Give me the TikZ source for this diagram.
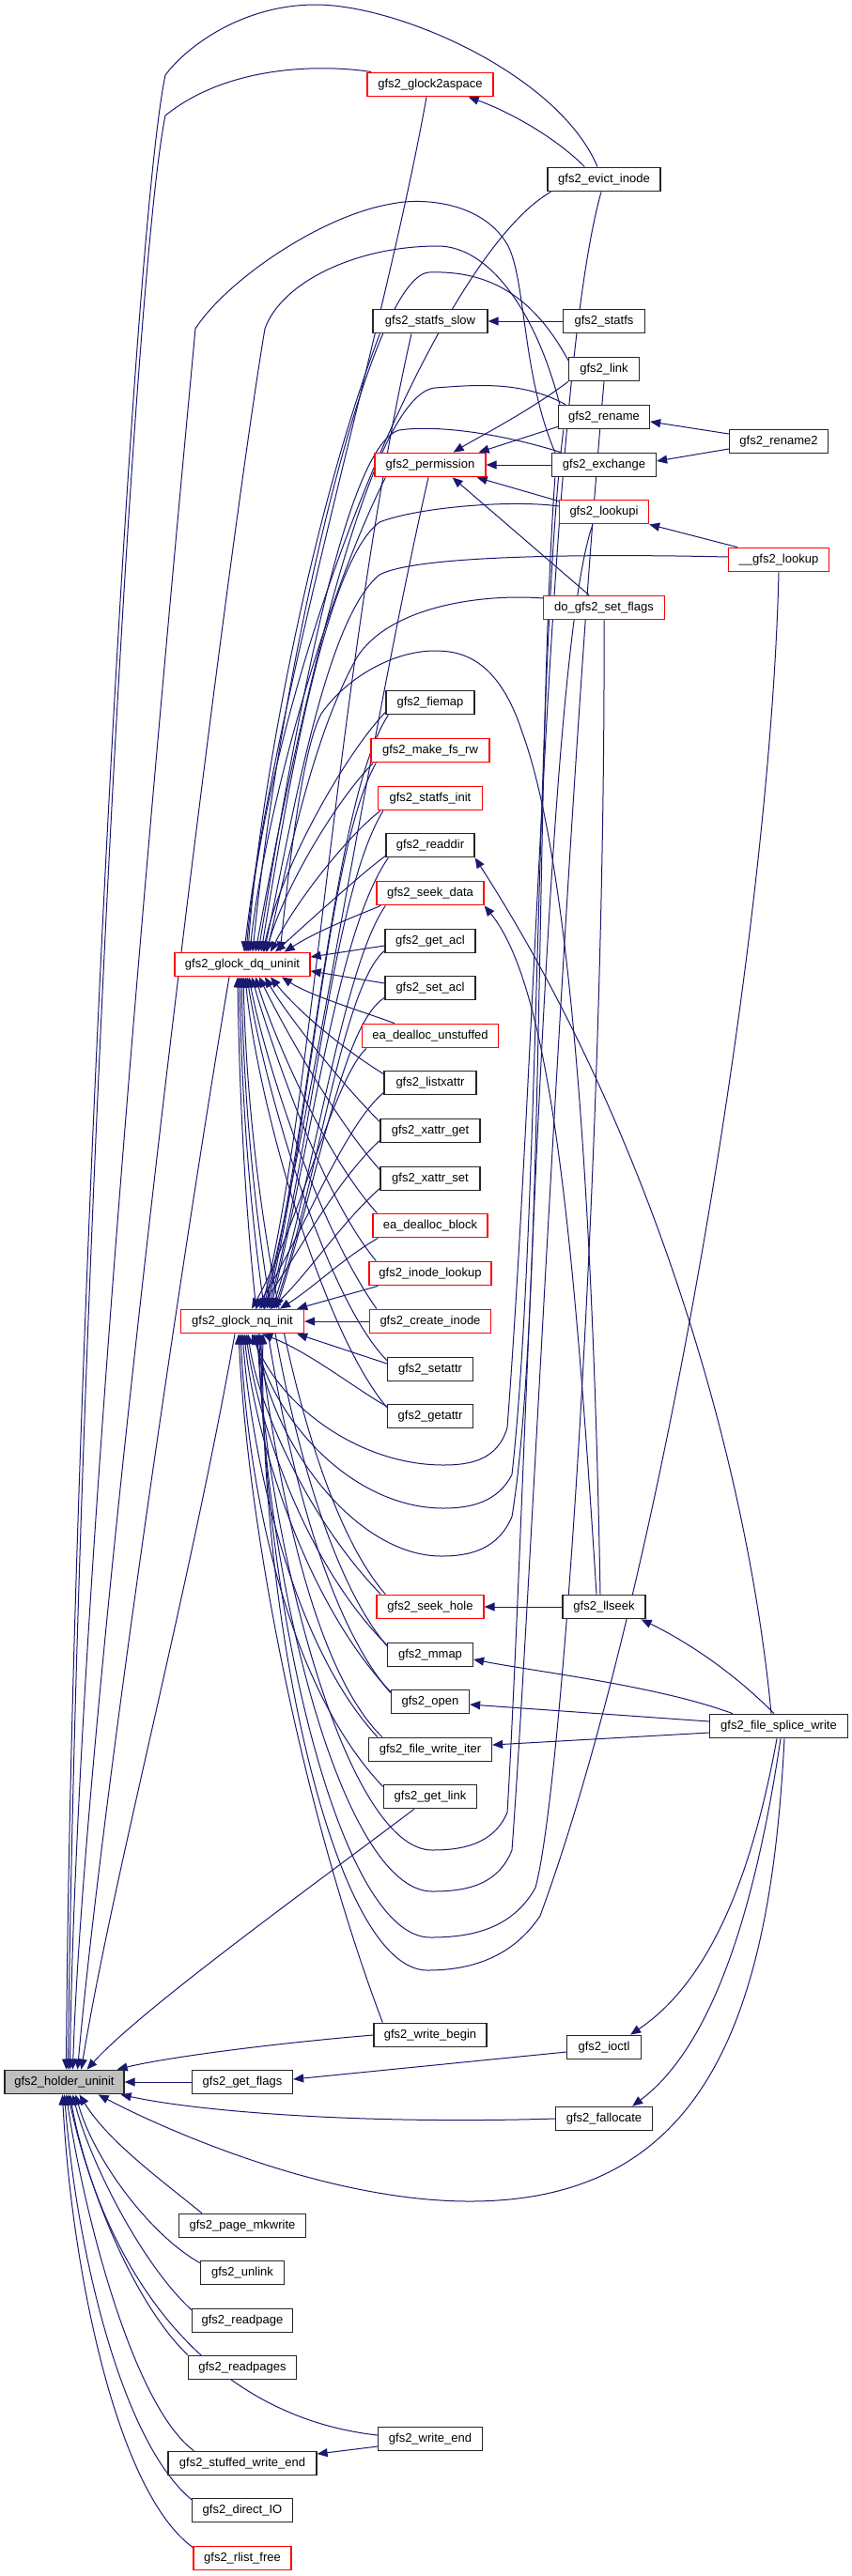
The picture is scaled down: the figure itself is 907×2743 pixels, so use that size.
\documentclass[tikz,border=0pt]{standalone}
\usepackage{fontspec}
\setmainfont{Liberation Sans}
\usetikzlibrary{arrows.meta,backgrounds,calc}
\definecolor{eb}{RGB}{25,25,112}
\definecolor{rootgray}{RGB}{191,191,191}
\definecolor{bred}{RGB}{255,0,0}
\tikzset{
  fn/.style={draw=black!85, line width=1.3pt, fill=white, minimum height=25.5pt,
    inner xsep=2pt, inner ysep=0pt, font=\fontsize{13}{15}\selectfont, text=black},
  fnr/.style={fn, draw=bred},
  rootn/.style={fn, fill=rootgray},
  conn/.style={draw=eb, line width=1pt, -{Triangle[length=11pt,width=9pt]}, fill=none},
}
\begin{document}
\begin{tikzpicture}[x=1pt,y=-1pt]
\useasboundingbox (0,0) rectangle (907,2743);
% ---------- nodes ----------
\node[fnr,minimum width=134pt] (g2a) at (458,90) {gfs2\_glock2aspace};
\node[fn,minimum width=120pt] (evict) at (643,191) {gfs2\_evict\_inode};
\node[fn,minimum width=122pt] (sslow) at (458,342) {gfs2\_statfs\_slow};
\node[fn,minimum width=87pt] (statfs) at (643,342) {gfs2\_statfs};
\node[fn,minimum width=75pt] (link) at (643,393) {gfs2\_link};
\node[fn,minimum width=97pt] (rename) at (643,444) {gfs2\_rename};
\node[fn,minimum width=105pt] (rename2) at (829,470) {gfs2\_rename2};
\node[fnr,minimum width=118pt] (perm) at (458,495) {gfs2\_permission};
\node[fn,minimum width=111pt] (exch) at (643,495) {gfs2\_exchange};
\node[fnr,minimum width=95pt] (lookupi) at (643,545) {gfs2\_lookupi};
\node[fnr,minimum width=107pt] (lookup) at (829,596) {\_\_gfs2\_lookup};
\node[fnr,minimum width=129pt] (setfl) at (643,647) {do\_gfs2\_set\_flags};
\node[fn,minimum width=94pt] (fiemap) at (458,748) {gfs2\_fiemap};
\node[fnr,minimum width=126pt] (mkrw) at (458,799) {gfs2\_make\_fs\_rw};
\node[fnr,minimum width=111pt] (sinit) at (458,850) {gfs2\_statfs\_init};
\node[fn,minimum width=94pt] (readdir) at (458,900) {gfs2\_readdir};
\node[fnr,minimum width=114pt] (sdata) at (458,951) {gfs2\_seek\_data};
\node[fn,minimum width=96pt] (getacl) at (458,1002) {gfs2\_get\_acl};
\node[fnr,minimum width=144pt] (D) at (258,1027) {gfs2\_glock\_dq\_uninit};
\node[fn,minimum width=96pt] (setacl) at (458,1052) {gfs2\_set\_acl};
\node[fnr,minimum width=145pt] (eaun) at (458,1103) {ea\_dealloc\_unstuffed};
\node[fn,minimum width=98pt] (listx) at (458,1153) {gfs2\_listxattr};
\node[fn,minimum width=106pt] (xget) at (458,1204) {gfs2\_xattr\_get};
\node[fn,minimum width=106pt] (xset) at (458,1255) {gfs2\_xattr\_set};
\node[fnr,minimum width=122pt] (eabl) at (458,1305) {ea\_dealloc\_block};
\node[fnr,minimum width=130pt] (ilook) at (458,1356) {gfs2\_inode\_lookup};
\node[fnr,minimum width=131pt] (N) at (258,1407) {gfs2\_glock\_nq\_init};
\node[fnr,minimum width=129pt] (cinode) at (458,1407) {gfs2\_create\_inode};
\node[fn,minimum width=91pt] (setattr) at (458,1458) {gfs2\_setattr};
\node[fn,minimum width=91pt] (getattr) at (458,1508) {gfs2\_getattr};
\node[fnr,minimum width=114pt] (shole) at (458,1711) {gfs2\_seek\_hole};
\node[fn,minimum width=88pt] (llseek) at (643,1711) {gfs2\_llseek};
\node[fn,minimum width=91pt] (mmap) at (458,1762) {gfs2\_mmap};
\node[fn,minimum width=83pt] (open) at (458,1812) {gfs2\_open};
\node[fn,minimum width=147pt] (splice) at (829,1838) {gfs2\_file\_splice\_write};
\node[fn,minimum width=131pt] (witer) at (458,1863) {gfs2\_file\_write\_iter};
\node[fn,minimum width=99pt] (glink) at (458,1913) {gfs2\_get\_link};
\node[fn,minimum width=120pt] (wbegin) at (458,2167) {gfs2\_write\_begin};
\node[fn,minimum width=79pt] (ioctl) at (643,2180) {gfs2\_ioctl};
\node[rootn,minimum width=127pt] (H) at (68.5,2217) {gfs2\_holder\_uninit};
\node[fn,minimum width=107pt] (gflags) at (258,2217) {gfs2\_get\_flags};
\node[fn,minimum width=103pt] (falloc) at (643,2256) {gfs2\_fallocate};
\node[fn,minimum width=135pt] (mkwrite) at (258,2370) {gfs2\_page\_mkwrite};
\node[fn,minimum width=89pt] (unlink) at (258,2420) {gfs2\_unlink};
\node[fn,minimum width=107pt] (rpage) at (258,2471) {gfs2\_readpage};
\node[fn,minimum width=115pt] (rpages) at (258,2521) {gfs2\_readpages};
\node[fn,minimum width=111pt] (wend) at (458,2597) {gfs2\_write\_end};
\node[fn,minimum width=158pt] (stuffed) at (258,2623) {gfs2\_stuffed\_write\_end};
\node[fn,minimum width=107pt] (dio) at (258,2673) {gfs2\_direct\_IO};
\node[fnr,minimum width=104pt] (rlist) at (258,2724) {gfs2\_rlist\_free};
% ---------- edges ----------
\begin{pgfonlayer}{background}
% into holder_uninit
\draw[conn] ($(evict.north)+(-7,0)$) .. controls (595,80) and (425,5) .. (336,5) .. controls (258,5) and (198,50) .. (176,80) .. controls (140,250) and (75,1500) .. ($(H.north)+(2,0)$);
\draw[conn] ($(g2a.north west)+(5,0)$) .. controls (355,70) and (248,65) .. (176,123) .. controls (140,300) and (80,1500) .. ($(H.north)+(4,0)$);
\draw[conn] ($(exch.north west)+(4,0)$) .. controls (556,400) and (560,300) .. (541,262) .. controls (515,215) and (450,210) .. (417,217) .. controls (340,230) and (240,300) .. (208,350) .. controls (185,600) and (80,1700) .. ($(H.north)+(6,0)$);
\draw[conn] ($(rename.north west)+(2,0)$) .. controls (570,330) and (520,262) .. (466,262) .. controls (380,262) and (300,300) .. (282,350) .. controls (240,600) and (90,1800) .. ($(H.north)+(9,0)$);
\draw[conn] ($(D.south)+(-14,0)$) .. controls (200,1300) and (110,1900) .. ($(H.north)+(14,0)$);
\draw[conn] ($(N.south)+(-8,0)$) .. controls (200,1700) and (120,2000) .. ($(H.north)+(18,0)$);
\draw[conn] ($(glink.south west)+(33,0)$) .. controls (330,2010) and (150,2140) .. ($(H.north)+(24,0)$);
\draw[conn] (wbegin.west) .. controls (300,2175) and (180,2190) .. ($(H.north east)+(-8,0)$);
\draw[conn] (gflags.west) -- (H.east);
\draw[conn] (falloc.west) .. controls (400,2262) and (220,2250) .. ($(H.south east)+(-4,0)$);
\draw[conn] ($(splice.south)+(6,0)$) .. controls (820,2150) and (750,2344) .. (500,2344) .. controls (350,2344) and (180,2270) .. ($(H.south east)+(-28,0)$);
\draw[conn] ($(mkwrite.north west)+(25,0)$) .. controls (170,2320) and (115,2280) .. ($(H.south)+(16,0)$);
\draw[conn] ($(unlink.north west)+(0,3)$) .. controls (160,2380) and (100,2300) .. ($(H.south)+(12,0)$);
\draw[conn] ($(rpage.north west)+(0,2)$) .. controls (150,2410) and (95,2300) .. ($(H.south)+(9,0)$);
\draw[conn] (rpages.north west) .. controls (140,2450) and (90,2320) .. ($(H.south)+(6,0)$);
\draw[conn] ($(wend.west)+(0,-4)$) .. controls (240,2575) and (120,2450) .. ($(H.south)+(4,0)$);
\draw[conn] ($(stuffed.north west)+(28,0)$) .. controls (140,2560) and (88,2350) .. ($(H.south)+(2,0)$);
\draw[conn] ($(dio.north west)+(0,2)$) .. controls (130,2600) and (82,2400) .. (H.south);
\draw[conn] ($(rlist.north west)+(0,2)$) .. controls (120,2650) and (75,2400) .. ($(H.south)+(-2,0)$);
\draw[conn] ($(wend.west)+(0,8)$) -- ($(stuffed.east)+(0,-10)$);
\draw[conn] ($(ioctl.west)+(0,5)$) -- ($(gflags.east)+(0,-3)$);
% right side
\draw[conn] ($(evict.north west)+(40,0)$) .. controls (590,145) and (540,118) .. ($(g2a.south east)+(-27,0)$);
\draw[conn] (statfs.west) -- (sslow.east);
\draw[conn] (link.south west) .. controls (560,440) and (510,465) .. ($(perm.north east)+(-35,0)$);
\draw[conn] ($(rename.south west)+(0,-3)$) -- ($(perm.north east)+(-8,0)$);
\draw[conn] (exch.west) -- (perm.east);
\draw[conn] ($(lookupi.north west)+(0,2)$) -- ($(perm.south east)+(-10,0)$);
\draw[conn] ($(setfl.north)+(-16,0)$) -- ($(perm.south east)+(-36,0)$);
\draw[conn] ($(rename2.west)+(0,-8)$) -- ($(rename.east)+(0,5)$);
\draw[conn] ($(rename2.west)+(0,8)$) -- ($(exch.east)+(0,-4)$);
\draw[conn] ($(lookup.north west)+(10,0)$) -- (lookupi.south east);
\draw[conn] (llseek.west) -- (shole.east);
\draw[conn] ($(llseek.north)+(-8,0)$) .. controls (610,1300) and (585,1050) .. (sdata.south east);
\draw[conn] ($(splice.north)+(-8,0)$) .. controls (795,1550) and (690,1200) .. (readdir.south east);
\draw[conn] ($(splice.north)+(-5,0)$) .. controls (770,1770) and (715,1740) .. ($(llseek.south east)+(-5,0)$);
\draw[conn] ($(splice.north west)+(25,0)$) .. controls (700,1795) and (570,1780) .. ($(mmap.east)+(0,5)$);
\draw[conn] ($(splice.west)+(0,-5)$) -- ($(open.east)+(0,3)$);
\draw[conn] ($(splice.west)+(0,7)$) -- ($(witer.east)+(0,-5)$);
\draw[conn] ($(splice.south)+(-2,0)$) .. controls (800,2000) and (755,2110) .. ($(ioctl.north east)+(-12,0)$);
\draw[conn] ($(splice.south)+(2,0)$) .. controls (800,2060) and (750,2185) .. ($(falloc.north east)+(-22,0)$);
% into dq_uninit from above
\draw[conn] ($(llseek.north)+(-4,0)$) .. controls (630,1200) and (600,900) .. (556,780) .. controls (530,700) and (490,693) .. (463,693) .. controls (420,693) and (370,720) .. (342,760) .. controls (320,800) and (305,950) .. ($(D.north)+(40,0)$);
\draw[conn] ($(g2a.south)+(-4,0)$) .. controls (410,350) and (290,750) .. ($(D.north)+(2,0)$);
\draw[conn] ($(evict.south west)+(4,0)$) .. controls (470,270) and (290,700) .. ($(D.north)+(4,0)$);
\draw[conn] ($(sslow.south west)+(8,0)$) .. controls (330,550) and (275,850) .. ($(D.north)+(6,0)$);
\draw[conn] ($(perm.south west)+(12,0)$) .. controls (340,650) and (280,880) .. ($(D.north)+(8,0)$);
\draw[conn] ($(link.north west)+(0,4)$) .. controls (565,310) and (515,288) .. (457,290) .. controls (395,292) and (300,700) .. ($(D.north)+(11,0)$);
\draw[conn] ($(rename.north west)+(8,0)$) .. controls (555,405) and (505,410) .. (463,413) .. controls (395,420) and (320,750) .. ($(D.north)+(14,0)$);
\draw[conn] ($(exch.north west)+(10,0)$) .. controls (535,462) and (465,452) .. (425,458) .. controls (365,475) and (310,800) .. ($(D.north)+(17,0)$);
\draw[conn] ($(lookupi.west)+(0,-6)$) .. controls (545,532) and (445,540) .. (404,556) .. controls (345,600) and (305,850) .. ($(D.north)+(20,0)$);
\draw[conn] ($(lookup.west)+(0,-3)$) .. controls (645,590) and (445,590) .. (404,612) .. controls (345,660) and (310,880) .. ($(D.north)+(23,0)$);
\draw[conn] ($(setfl.west)+(0,-10)$) .. controls (515,632) and (415,645) .. (380,700) .. controls (335,780) and (310,900) .. ($(D.north)+(26,0)$);
\draw[conn] ($(fiemap.south west)+(0,-3)$) .. controls (370,800) and (300,920) .. ($(D.north)+(22,0)$);
\draw[conn] ($(mkrw.south west)+(3,0)$) .. controls (360,850) and (305,940) .. ($(D.north)+(25,0)$);
\draw[conn] ($(sinit.south west)+(3,0)$) .. controls (370,890) and (315,960) .. ($(D.north)+(30,0)$);
\draw[conn] ($(readdir.south west)+(0,-2)$) .. controls (385,930) and (330,980) .. ($(D.north)+(35,0)$);
\draw[conn] ($(sdata.south west)+(5,0)$) .. controls (380,975) and (340,990) .. ($(D.north east)+(-28,0)$);
\draw[conn] ($(getacl.west)+(0,5)$) -- ($(D.east)+(0,-8)$);
\draw[conn] ($(setacl.west)+(0,-5)$) -- ($(D.east)+(0,7)$);
% into dq_uninit from below
\draw[conn] ($(eaun.north west)+(35,0)$) .. controls (380,1075) and (330,1060) .. ($(D.south)+(42,0)$);
\draw[conn] ($(listx.north west)+(0,4)$) .. controls (370,1120) and (320,1080) .. ($(D.south)+(30,0)$);
\draw[conn] ($(xget.north west)+(0,4)$) .. controls (360,1150) and (305,1080) .. ($(D.south)+(24,0)$);
\draw[conn] ($(xset.north west)+(0,4)$) .. controls (355,1190) and (300,1090) .. ($(D.south)+(18,0)$);
\draw[conn] ($(eabl.north west)+(5,0)$) .. controls (345,1230) and (290,1100) .. ($(D.south)+(14,0)$);
\draw[conn] ($(ilook.north west)+(8,0)$) .. controls (340,1270) and (285,1100) .. ($(D.south)+(10,0)$);
\draw[conn] ($(cinode.north west)+(8,0)$) .. controls (335,1300) and (280,1120) .. ($(D.south)+(7,0)$);
\draw[conn] ($(setattr.north west)+(0,4)$) .. controls (345,1380) and (280,1150) .. ($(D.south)+(5,0)$);
\draw[conn] ($(getattr.north west)+(0,4)$) .. controls (345,1420) and (275,1180) .. ($(D.south)+(3,0)$);
\draw[conn] ($(shole.north west)+(10,0)$) .. controls (325,1600) and (265,1300) .. ($(D.south)+(1,0)$);
\draw[conn] ($(mmap.north west)+(0,4)$) .. controls (325,1650) and (263,1350) .. ($(D.south)+(-1,0)$);
\draw[conn] ($(open.north west)+(0,4)$) .. controls (325,1700) and (261,1400) .. ($(D.south)+(-3,0)$);
\draw[conn] ($(witer.north west)+(15,0)$) .. controls (315,1760) and (259,1450) .. ($(D.south)+(-5,0)$);
% into nq_init from above
\draw[conn] ($(sslow.south)+(-20,0)$) .. controls (360,700) and (330,1200) .. ($(N.north)+(20,0)$);
\draw[conn] ($(perm.south)+(-2,0)$) .. controls (390,800) and (330,1200) .. ($(N.north)+(22,0)$);
\draw[conn] ($(fiemap.south west)+(3,0)$) .. controls (355,850) and (330,1200) .. ($(N.north)+(24,0)$);
\draw[conn] ($(mkrw.south west)+(6,0)$) .. controls (350,900) and (330,1200) .. ($(N.north)+(26,0)$);
\draw[conn] ($(sinit.south west)+(6,0)$) .. controls (355,950) and (335,1200) .. ($(N.north)+(28,0)$);
\draw[conn] ($(readdir.south west)+(3,0)$) .. controls (360,990) and (335,1200) .. ($(N.north)+(30,0)$);
\draw[conn] ($(sdata.south west)+(10,0)$) .. controls (365,1030) and (335,1250) .. ($(N.north)+(32,0)$);
\draw[conn] ($(getacl.south west)+(0,-3)$) .. controls (365,1050) and (340,1250) .. ($(N.north)+(34,0)$);
\draw[conn] ($(setacl.south west)+(0,-3)$) .. controls (365,1090) and (340,1250) .. ($(N.north)+(36,0)$);
\draw[conn] ($(eaun.south west)+(5,0)$) .. controls (355,1150) and (320,1300) .. ($(N.north)+(10,0)$);
\draw[conn] ($(listx.south west)+(0,-3)$) .. controls (365,1200) and (320,1320) .. ($(N.north)+(14,0)$);
\draw[conn] ($(xget.south west)+(0,-3)$) .. controls (355,1260) and (315,1340) .. ($(N.north)+(18,0)$);
\draw[conn] ($(xset.south west)+(0,-3)$) .. controls (365,1300) and (325,1360) .. ($(N.north)+(30,0)$);
\draw[conn] ($(eabl.south west)+(6,0)$) .. controls (365,1340) and (335,1370) .. ($(N.north)+(40,0)$);
\draw[conn] ($(ilook.south west)+(10,0)$) -- ($(N.north east)+(-8,0)$);
\draw[conn] (cinode.west) -- (N.east);
% into nq_init from below
\draw[conn] ($(setattr.west)+(0,-6)$) -- ($(N.south east)+(-8,0)$);
\draw[conn] ($(getattr.north west)+(0,3)$) .. controls (380,1480) and (330,1440) .. ($(N.south east)+(-45,0)$);
\draw[conn] ($(shole.north west)+(5,0)$) .. controls (330,1620) and (275,1500) .. ($(N.south)+(6,0)$);
\draw[conn] ($(mmap.north west)+(0,3)$) .. controls (320,1660) and (272,1500) .. ($(N.south)+(4,0)$);
\draw[conn] ($(open.north west)+(0,3)$) .. controls (320,1700) and (270,1520) .. ($(N.south)+(2,0)$);
\draw[conn] ($(witer.north west)+(10,0)$) .. controls (310,1750) and (268,1550) .. (N.south);
\draw[conn] ($(glink.north west)+(0,3)$) .. controls (310,1800) and (265,1600) .. ($(N.south)+(-2,0)$);
\draw[conn] ($(wbegin.north west)+(10,0)$) .. controls (330,1950) and (265,1650) .. ($(N.south)+(-4,0)$);
% U-shaped routes into nq_init
\draw[conn] ($(evict.south)+(-3,0)$) .. controls (585,400) and (572,1100) .. (540,1520) .. controls (530,1555) and (500,1560) .. (472,1560) .. controls (385,1560) and (300,1500) .. ($(N.south)+(10,0)$);
\draw[conn] ($(rename.south west)+(6,0)$) .. controls (570,700) and (575,1300) .. (545,1570) .. controls (530,1600) and (500,1606) .. (472,1606) .. controls (380,1606) and (295,1520) .. ($(N.south)+(12,0)$);
\draw[conn] ($(exch.south west)+(4,0)$) .. controls (570,800) and (580,1400) .. (545,1615) .. controls (530,1650) and (500,1657) .. (470,1657) .. controls (380,1657) and (290,1540) .. ($(N.south)+(14,0)$);
\draw[conn] ($(lookupi.south)+(-12,0)$) .. controls (580,700) and (560,1600) .. (540,1930) .. controls (525,1965) and (490,1970) .. (460,1970) .. controls (370,1970) and (285,1650) .. ($(N.south)+(16,0)$);
\draw[conn] (link.south) .. controls (600,900) and (565,1700) .. (545,1970) .. controls (530,2008) and (495,2014) .. (460,2014) .. controls (365,2014) and (280,1680) .. ($(N.south)+(18,0)$);
\draw[conn] (setfl.south) .. controls (645,1200) and (600,1900) .. (570,2010) .. controls (545,2055) and (500,2063) .. (458,2063) .. controls (360,2063) and (278,1700) .. ($(N.south)+(20,0)$);
\draw[conn] (lookup.south) .. controls (820,1000) and (700,1700) .. (575,2040) .. controls (545,2085) and (500,2098) .. (455,2098) .. controls (355,2098) and (275,1720) .. ($(N.south)+(22,0)$);
\end{pgfonlayer}
\end{tikzpicture}
\end{document}
